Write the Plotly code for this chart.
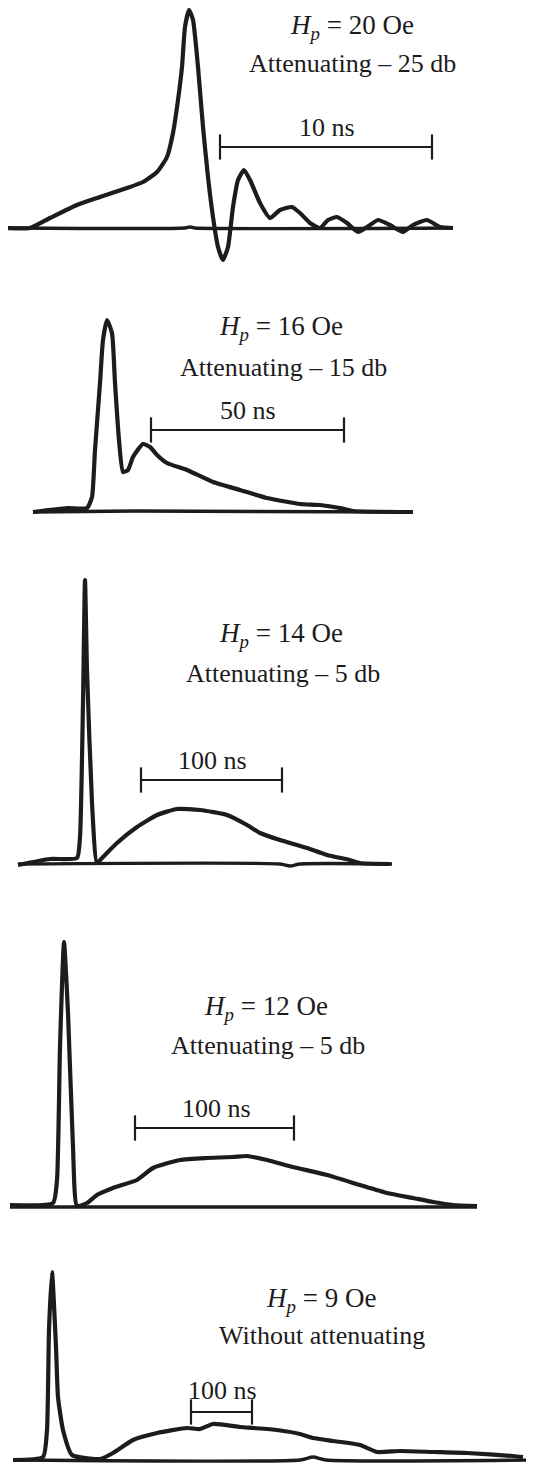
import plotly.graph_objects as go

# ---- data (time axis in arbitrary units, signal in arbitrary units) ----
t1 = [7, 30, 50, 77, 100, 127, 143, 157, 167, 173, 178, 182, 185, 189, 193, 198, 203, 208, 213, 218,
      223, 228, 233, 238, 244, 250, 260, 270, 280, 292, 300, 310, 320, 328, 337, 347, 358, 367, 378,
      390, 403, 413, 427, 440, 453]
s1 = [0, 0, 10, 23, 31, 40, 46, 56, 71, 95, 128, 161, 201, 218, 208, 161, 101, 51, 11, -19,
      -32, -19, 21, 48, 58, 48, 25, 10, 18, 21, 15, 5, 0, 8, 11, 5, -4, 1, 8,
      3, -4, 3, 8, 1, 0]

t2 = [33, 67, 87, 92, 95, 100, 103, 107, 112, 115, 119, 123, 128, 133, 143, 150, 157, 167, 187,
      213, 240, 267, 300, 320, 340, 353, 413]
s2 = [0, 4, 4, 15, 62, 129, 172, 192, 179, 129, 72, 40, 42, 55, 68, 65, 57, 49, 42,
      30, 22, 14, 8, 7, 4, 1, 0]

t3 = [18, 50, 77, 80, 83, 85, 87, 92, 97, 103, 117, 137, 157, 177, 200, 227, 247, 260, 280, 307,
      327, 350, 360, 390]
s3 = [-1, 5, 6, 27, 161, 284, 194, 61, 1, 7, 21, 37, 49, 55, 54, 49, 39, 31, 24, 16,
      9, 4, 1, 0]

t4 = [10, 53, 57, 60, 64, 68, 73, 77, 87, 97, 113, 137, 153, 180, 207, 233, 247, 267, 293, 327,
      360, 387, 413, 433, 453, 477]
s4 = [2, 4, 27, 160, 265, 194, 60, 1, 4, 12, 19, 27, 39, 47, 49, 50, 51, 47, 40, 32,
      22, 14, 9, 5, 2, 1]

t5 = [13, 43, 47, 49, 52, 56, 58, 63, 72, 100, 113, 133, 157, 187, 200, 213, 240, 253, 277, 300,
      313, 333, 360, 377, 400, 433, 467, 513, 523]
s5 = [0, 3, 30, 130, 188, 113, 63, 30, 5, 1, 7, 20, 27, 32, 31, 36, 33, 32, 30, 26,
      22, 19, 15, 8, 9, 8, 7, 4, 3]

# baselines with small bumps
base_t = [[7, 185, 190, 195, 453], [33, 135, 413], [18, 280, 290, 300, 392], [10, 240, 477],
          [13, 300, 313, 326, 540]]
base_s = [[0, 0, 1, 0, 0], [0, 1, 0], [0, 0, -2, 0, 0], [0, 0, 0], [0, 0, 3, 0, 0]]

# scale bars
bar_t = [[220, 432], [151, 344], [141, 282], [135, 294], [191, 252]]
bar_s = [81, 82, 84, 79, 48]
bar_labels = ["10 ns", "50 ns", "100 ns", "100 ns", "100 ns"]

field_labels = ["20 Oe", "16 Oe", "14 Oe", "12 Oe", "9 Oe"]
atten_labels = ["Attenuating \u2013 25 db", "Attenuating \u2013 15 db", "Attenuating \u2013 5 db",
                "Attenuating \u2013 5 db", "Without attenuating"]

times = [t1, t2, t3, t4, t5]
signals = [s1, s2, s3, s4, s5]

# ---- layout (pixel geometry of each panel, page pixels) ----
W, H = 534, 1464
OFF = 8  # page body margin
panels = [  # top px, bottom px, baseline px
    (8, 285, 228), (290, 540, 512), (560, 890, 864), (900, 1230, 1207), (1240, 1464, 1460)]
label_pos = [  # (x, y field line), (x, y attenuation line), (x, y bar label)
    ((352, 201), (352, 165), (327, 101)),
    ((281, 184), (283, 145), (248, 102)),
    ((281, 229), (283, 191), (212, 104)),
    ((266, 199), (268, 162), (216, 99)),
    ((321, 160), (322, 125), (222, 70)),
]

INK = "#1e1b1c"
FONT = "Liberation Serif, Times New Roman, serif"
FS = 26
fig = go.Figure()
layout = dict(width=W, height=H, margin=dict(l=0, r=0, t=0, b=0),
              paper_bgcolor="white", plot_bgcolor="white", showlegend=False)
annotations = []
for i, (top, bot, base) in enumerate(panels):
    k = "" if i == 0 else str(i + 1)
    xa, ya = "x" + k, "y" + k
    layout["xaxis" + k] = dict(domain=[0, 1], range=[OFF, OFF + W], visible=False, anchor=ya,
                               fixedrange=True)
    layout["yaxis" + k] = dict(domain=[1 - (bot - OFF) / H, 1 - (top - OFF) / H],
                               range=[base - bot, base - top],
                               visible=False, anchor=xa, fixedrange=True)
    fig.add_trace(go.Scatter(x=base_t[i], y=base_s[i], mode="lines", xaxis=xa, yaxis=ya,
                             line=dict(color=INK, width=3.4, shape="spline", smoothing=0.6)))
    fig.add_trace(go.Scatter(x=times[i], y=signals[i], mode="lines", xaxis=xa, yaxis=ya,
                             line=dict(color=INK, width=4.2, shape="spline", smoothing=0.5)))
    fig.add_trace(go.Scatter(x=bar_t[i], y=[bar_s[i], bar_s[i]], mode="lines+markers", xaxis=xa, yaxis=ya,
                             line=dict(color=INK, width=2),
                             marker=dict(symbol="line-ns", size=18, line=dict(color=INK, width=2.2))))
    (fx, fy), (ax_, ay), (bx, by) = label_pos[i]
    annotations.append(dict(x=fx, y=fy, xref=xa, yref=ya, showarrow=False,
                            text="<i>H</i><sub><i>p</i></sub> = " + field_labels[i],
                            font=dict(family=FONT, size=27, color=INK)))
    annotations.append(dict(x=ax_, y=ay, xref=xa, yref=ya, showarrow=False, text=atten_labels[i],
                            font=dict(family=FONT, size=FS, color=INK)))
    annotations.append(dict(x=bx, y=by, xref=xa, yref=ya, showarrow=False, text=bar_labels[i],
                            font=dict(family=FONT, size=FS, color=INK)))

layout["annotations"] = annotations
fig.update_layout(**layout)
fig.write_html("out.html")
